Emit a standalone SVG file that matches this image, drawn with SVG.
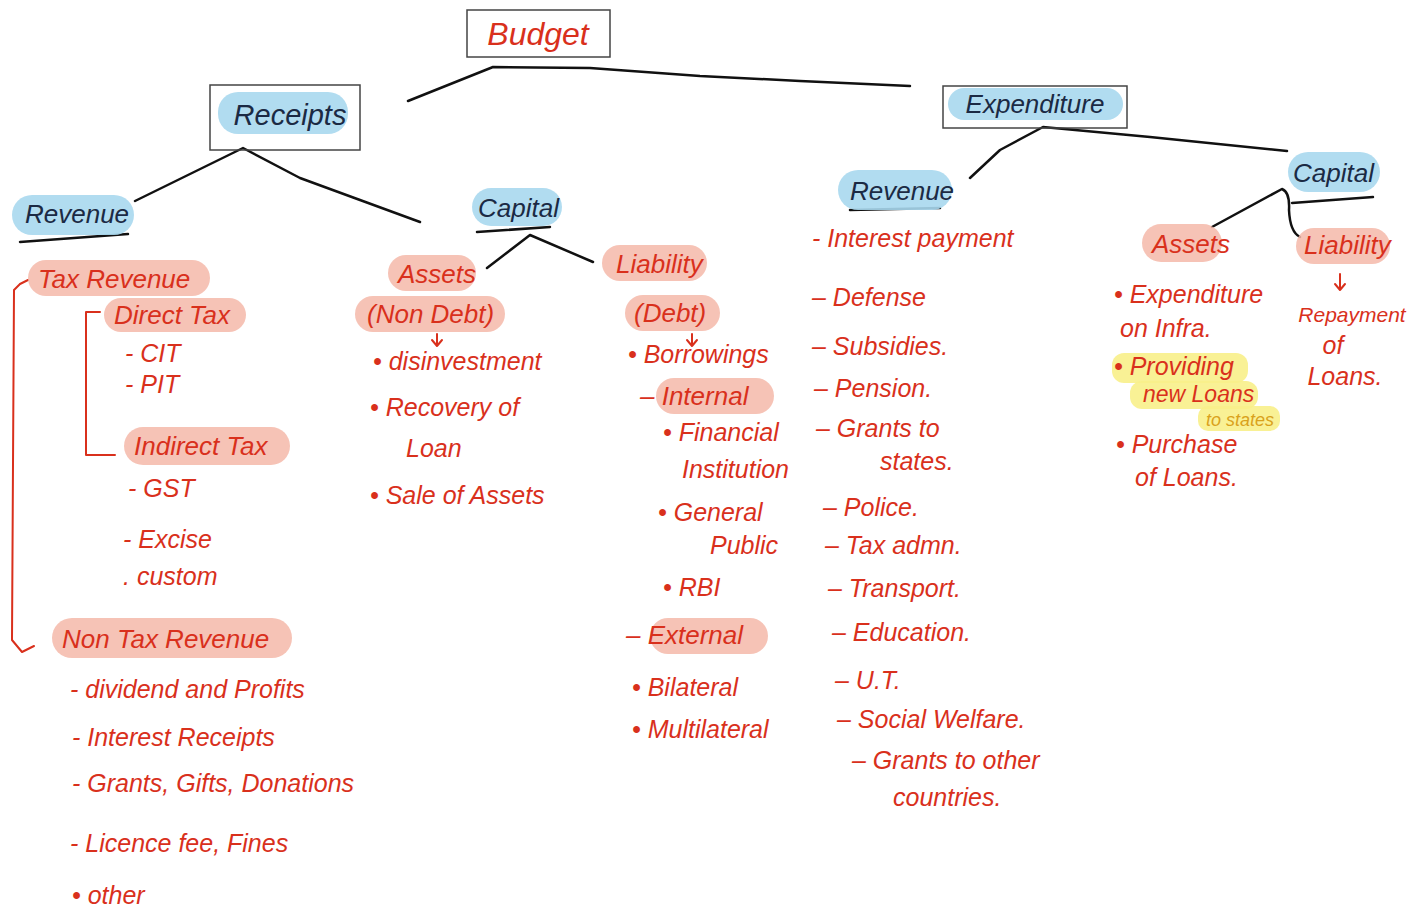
<svg xmlns="http://www.w3.org/2000/svg" width="1423" height="908" viewBox="0 0 1423 908">
<defs>
<style>
.r{font-family:"Liberation Sans",Arial,sans-serif;font-style:italic;fill:#d9301c;font-size:25px}
.h{font-family:"Liberation Sans",Arial,sans-serif;font-style:italic;fill:#d9301c;font-size:26px}
.b{font-family:"Liberation Sans",Arial,sans-serif;font-style:italic;fill:#1b2a44;font-size:26px}
.box{fill:none;stroke:#444;stroke-width:1.5}
.hl{fill:#f5b9a9;opacity:0.85}
.bl{fill:#a9d8ee;opacity:0.9}
.yl{fill:#f8f08a;opacity:0.9}
.ln{fill:none;stroke:#111;stroke-width:2.5;stroke-linecap:round;stroke-linejoin:round}
.rl{fill:none;stroke:#d9301c;stroke-width:2;stroke-linecap:round;stroke-linejoin:round}
</style>
</defs>
<rect width="1423" height="908" fill="#fff"/>

<g id="connectors">
<path class="ln" d="M408,101 L493,67 L590,68 L700,76 L800,81 L910,86"/>
<path class="ln" d="M135,201 L243,148 L300,178 L360,200 L420,222"/>
<path class="ln" d="M487,268 L530,235 L593,262"/>
<path class="ln" d="M970,178 L1000,150 L1043,127 L1150,137 L1287,151"/>
<path class="ln" d="M1212,227 L1282,189 Q1290,192 1289,210 Q1290,232 1300,237"/>
<path class="ln" d="M20,242 L128,234"/>
<path class="ln" d="M477,232 L550,227"/>
<path class="ln" d="M850,210 L940,208"/>
<path class="ln" d="M1292,203 L1373,197"/>
<path class="rl" d="M20,284 L28,280 M20,284 L14,290 L12,640 L22,652 M22,652 L34,646"/>
<path class="rl" d="M100,312 L86,312 L86,455 L115,455"/>
<path class="rl" d="M437,334 L437,346 M432,340 L437,346 L442,340"/>
<path class="rl" d="M692,334 L692,346 M687,340 L692,346 L697,340"/>
<path class="rl" d="M1340,274 L1340,290 M1335,284 L1340,290 L1345,284"/>
</g>

<g id="budget">
<rect class="box" x="467" y="10" width="143" height="47"/>
<text class="h" x="538" y="45" text-anchor="middle" style="font-size:32px">Budget</text>
</g>

<g id="receipts">
<rect class="bl" x="218" y="92" width="130" height="42" rx="20"/>
<rect class="box" x="210" y="85" width="150" height="65"/>
<text class="b" x="290" y="125" text-anchor="middle" style="font-size:29px">Receipts</text>
</g>

<g id="expenditure">
<rect class="bl" x="948" y="88" width="175" height="32" rx="16"/>
<rect class="box" x="943" y="86" width="184" height="42"/>
<text class="b" x="1035" y="113" text-anchor="middle" style="font-size:26px">Expenditure</text>
</g>

<g id="rec-revenue">
<rect class="bl" x="12" y="195" width="122" height="40" rx="20"/>
<text class="b" x="25" y="223">Revenue</text>
</g>

<g id="tax-revenue">
<rect class="hl" x="28" y="260" width="182" height="36" rx="18"/>
<text class="h" x="38" y="288">Tax Revenue</text>
<rect class="hl" x="104" y="298" width="142" height="34" rx="17"/>
<text class="h" x="114" y="324">Direct Tax</text>
<text class="r" x="125" y="362">- CIT</text>
<text class="r" x="125" y="393">- PIT</text>
<rect class="hl" x="124" y="427" width="166" height="38" rx="19"/>
<text class="h" x="134" y="455">Indirect Tax</text>
<text class="r" x="128" y="497">- GST</text>
<text class="r" x="123" y="548">- Excise</text>
<text class="r" x="123" y="585">. custom</text>
</g>

<g id="non-tax-revenue">
<rect class="hl" x="52" y="618" width="240" height="40" rx="20"/>
<text class="h" x="62" y="648">Non Tax Revenue</text>
<text class="r" x="70" y="698">- dividend and Profits</text>
<text class="r" x="72" y="746">- Interest Receipts</text>
<text class="r" x="72" y="792">- Grants, Gifts, Donations</text>
<text class="r" x="70" y="852">- Licence fee, Fines</text>
<text class="r" x="72" y="904">•  other</text>
</g>

<g id="rec-capital">
<rect class="bl" x="472" y="188" width="90" height="38" rx="19"/>
<text class="b" x="478" y="217">Capital</text>
</g>

<g id="rec-assets">
<rect class="hl" x="388" y="255" width="88" height="36" rx="18"/>
<text class="h" x="398" y="283">Assets</text>
<rect class="hl" x="355" y="296" width="150" height="36" rx="18"/>
<text class="h" x="367" y="323">(Non Debt)</text>
<text class="r" x="373" y="370">• disinvestment</text>
<text class="r" x="370" y="416">• Recovery of</text>
<text class="r" x="406" y="457">Loan</text>
<text class="r" x="370" y="504">• Sale of Assets</text>
</g>

<g id="rec-liability">
<rect class="hl" x="602" y="245" width="105" height="36" rx="18"/>
<text class="h" x="616" y="273">Liability</text>
<rect class="hl" x="625" y="295" width="95" height="36" rx="18"/>
<text class="h" x="634" y="322">(Debt)</text>
<text class="r" x="628" y="363">• Borrowings</text>
<rect class="hl" x="656" y="378" width="118" height="36" rx="18"/>
<text class="h" x="640" y="405">– Internal</text>
<text class="r" x="663" y="441">• Financial</text>
<text class="r" x="682" y="478">Institution</text>
<text class="r" x="658" y="521">• General</text>
<text class="r" x="710" y="554">Public</text>
<text class="r" x="663" y="596">• RBI</text>
<rect class="hl" x="650" y="618" width="118" height="36" rx="18"/>
<text class="h" x="626" y="644">– External</text>
<text class="r" x="632" y="696">• Bilateral</text>
<text class="r" x="632" y="738">• Multilateral</text>
</g>

<g id="exp-revenue">
<rect class="bl" x="838" y="170" width="114" height="40" rx="20"/>
<text class="b" x="850" y="200">Revenue</text>
<text class="r" x="812" y="247">- Interest payment</text>
<text class="r" x="812" y="306">–  Defense</text>
<text class="r" x="812" y="355">–  Subsidies.</text>
<text class="r" x="814" y="397">–   Pension.</text>
<text class="r" x="816" y="437">–   Grants to</text>
<text class="r" x="880" y="470">states.</text>
<text class="r" x="823" y="516">–   Police.</text>
<text class="r" x="825" y="554">–   Tax admn.</text>
<text class="r" x="828" y="597">–   Transport.</text>
<text class="r" x="832" y="641">–   Education.</text>
<text class="r" x="835" y="689">–   U.T.</text>
<text class="r" x="837" y="728">–   Social Welfare.</text>
<text class="r" x="852" y="769">– Grants to other</text>
<text class="r" x="893" y="806">countries.</text>
</g>

<g id="exp-capital">
<rect class="bl" x="1288" y="152" width="92" height="40" rx="20"/>
<text class="b" x="1293" y="182">Capital</text>
</g>

<g id="exp-assets">
<rect class="hl" x="1142" y="224" width="80" height="38" rx="19"/>
<text class="h" x="1152" y="253">Assets</text>
<text class="r" x="1114" y="303">• Expenditure</text>
<text class="r" x="1120" y="337">on Infra.</text>
<rect class="yl" x="1112" y="353" width="136" height="30" rx="12"/>
<rect class="yl" x="1130" y="381" width="128" height="28" rx="12"/>
<rect class="yl" x="1198" y="406" width="82" height="25" rx="10"/>
<text class="r" x="1143" y="402" style="font-size:23px">new Loans</text>
<text class="r" x="1114" y="375">• Providing</text>
<text class="r" x="1206" y="426" style="font-size:18px;fill:#d9a21c">to states</text>
<text class="r" x="1116" y="453">• Purchase</text>
<text class="r" x="1135" y="486">of Loans.</text>
</g>

<g id="exp-liability">
<rect class="hl" x="1296" y="228" width="94" height="36" rx="18"/>
<text class="h" x="1304" y="254">Liability</text>
<text class="r" x="1352" y="322" text-anchor="middle" style="font-size:21px">Repayment</text>
<text class="r" x="1333" y="354" text-anchor="middle">of</text>
<text class="r" x="1345" y="385" text-anchor="middle">Loans.</text>
</g>
</svg>
